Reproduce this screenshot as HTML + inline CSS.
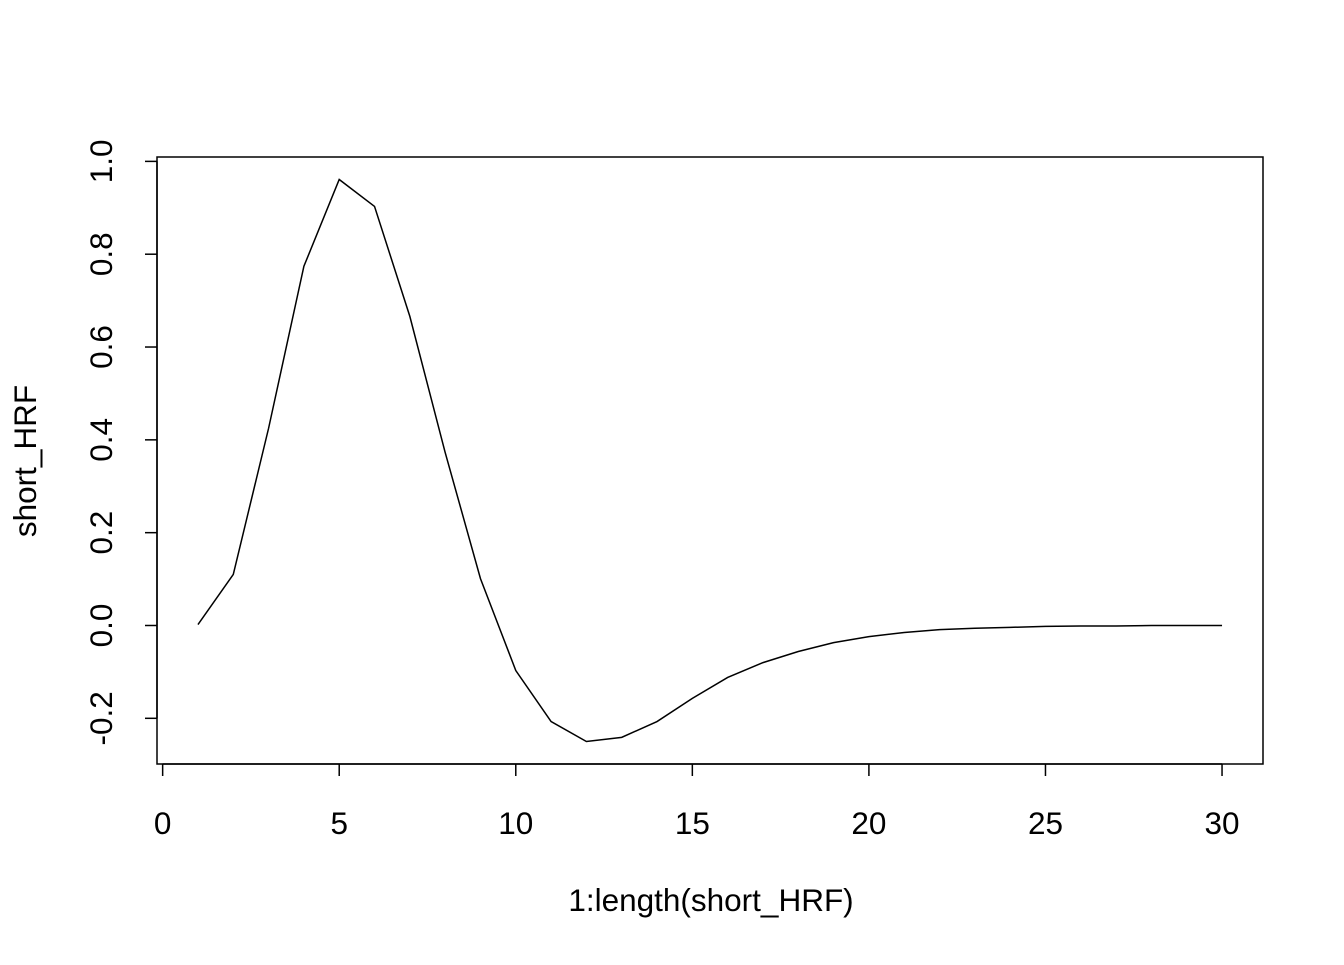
<!DOCTYPE html>
<html><head><meta charset="utf-8"><style>
body{margin:0;background:#fff;}
svg text{font-family:"Liberation Sans",Arial,sans-serif;font-size:31.5px;fill:#000;}
</style></head><body>
<svg id="chart" width="1344" height="960">
<rect x="157" y="157" width="1106" height="607" fill="none" stroke="#000" stroke-width="1.5"/>
<g id="axes"></g>
<path id="line" fill="none" stroke="#000" stroke-width="1.5"/>
<text x="711" y="911" text-anchor="middle">1:length(short_HRF)</text>
<text transform="translate(36,461) rotate(-90)" text-anchor="middle">short_HRF</text>
</svg>
<script>
const yValues=[0.002,0.11,0.425,0.774,0.961,0.903,0.666,0.373,0.101,-0.097,-0.207,-0.25,-0.241,-0.207,-0.157,-0.112,-0.08,-0.056,-0.037,-0.024,-0.015,-0.009,-0.006,-0.004,-0.002,-0.001,-0.001,0,0,0];
const xTicks=[0,5,10,15,20,25,30];
const yTicks=[-0.2,0,0.2,0.4,0.6,0.8,1.0];
const yTickLabels=["-0.2","0.0","0.2","0.4","0.6","0.8","1.0"];
const L=157,R=1263,T=157,B=764;
const n=yValues.length;
const xmin=1-(n-1)*0.04, xmax=n+(n-1)*0.04;
const ymn=Math.min(...yValues), ymx=Math.max(...yValues), pad=(ymx-ymn)*0.04;
const ymin=ymn-pad, ymax=ymx+pad;
const xs=v=>L+(v-xmin)/(xmax-xmin)*(R-L);
const ys=v=>B-(v-ymin)/(ymax-ymin)*(B-T);
const ns="http://www.w3.org/2000/svg";
const ax=document.getElementById('axes');
function mk(tag,attrs,parent){const e=document.createElementNS(ns,tag);for(const k in attrs)e.setAttribute(k,attrs[k]);parent.appendChild(e);return e;}
mk('line',{x1:xs(xTicks[0]),x2:xs(xTicks[xTicks.length-1]),y1:B,y2:B,stroke:'#000','stroke-width':1.5},ax);
xTicks.forEach(t=>{
 const l=mk('line',{x1:xs(t),x2:xs(t),y1:B,y2:B+12,stroke:'#000','stroke-width':1.5},ax);
 
 
 const tx=mk('text',{x:xs(t),y:834,'text-anchor':'middle'},ax);tx.textContent=t;
 
 
});
const ya=mk('line',{x1:L,x2:L,y1:ys(yTicks[0]),y2:ys(yTicks[yTicks.length-1]),stroke:'#000','stroke-width':1.5},ax);

yTicks.forEach((t,i)=>{
 const l=mk('line',{x1:L-12,x2:L,y1:ys(t),y2:ys(t),stroke:'#000','stroke-width':1.5},ax);
 
 
 const tx=mk('text',{transform:`translate(112,${ys(t)}) rotate(-90)`,'text-anchor':'middle'},ax);tx.textContent=yTickLabels[i];
 
 
});
document.getElementById('line').setAttribute('d',yValues.map((v,i)=>(i?'L':'M')+xs(i+1)+','+ys(v)).join(' '));
</script>
</body></html>
